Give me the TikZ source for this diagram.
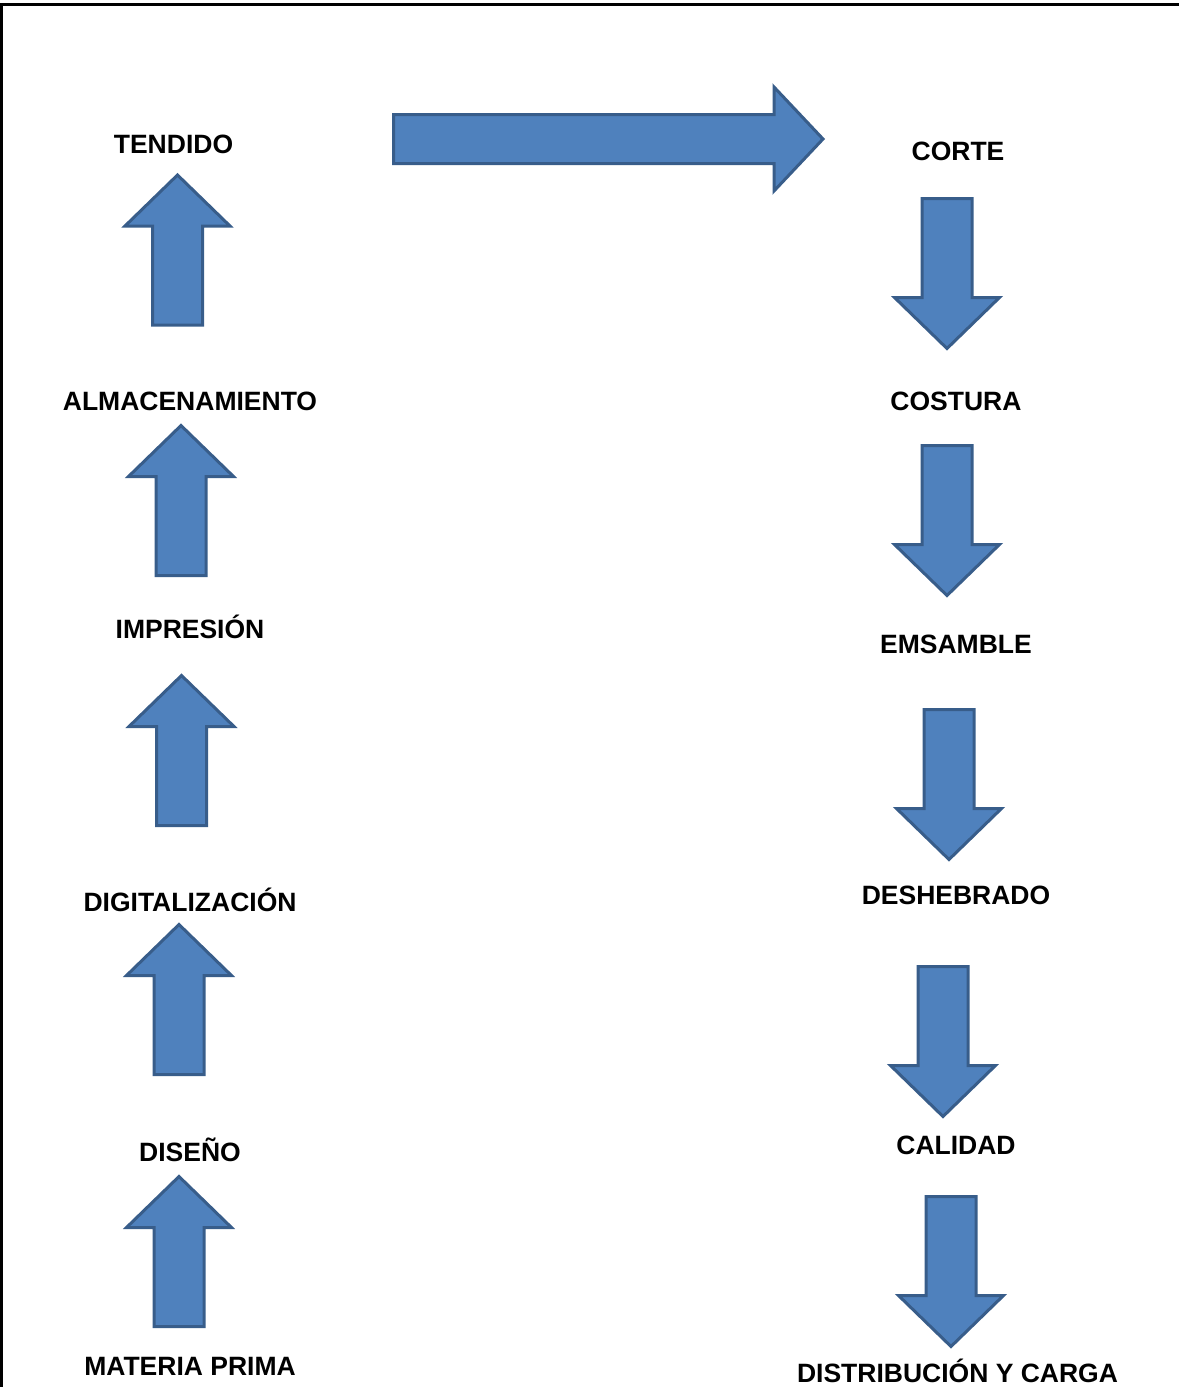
\documentclass[tikz,border=0pt]{standalone}
\usepackage{fontspec}
\setmainfont{Liberation Sans}
\definecolor{arrfill}{HTML}{4F81BD}
\definecolor{arrline}{HTML}{385D8A}
\tikzset{
  lbl/.style={font=\fontsize{26.5}{30}\selectfont\bfseries, inner sep=0pt, text height=19pt, text depth=0pt},
  blk/.style={fill=arrfill, draw=arrline, line width=3pt},
  pics/uparr/.style={code={\draw[blk] (-25,0) -- (-25,-99) -- (-52.5,-99) -- (0,-150) -- (52.5,-99) -- (25,-99) -- (25,0) -- cycle;}},
  pics/downarr/.style={code={\draw[blk] (-25,0) -- (-25,99) -- (-52.5,99) -- (0,150) -- (52.5,99) -- (25,99) -- (25,0) -- cycle;}},
}
\begin{document}
\begin{tikzpicture}[x=1pt,y=-1pt]
\useasboundingbox (0,0) rectangle (1179,1387);
\draw[line width=3pt] (1.5,1387) -- (1.5,4.2) -- (1179,4.2);

% left column
\node[lbl] (tendido) at (173.5,144)  {TENDIDO};
\node[lbl] (almac)   at (190,401)    {ALMACENAMIENTO};
\node[lbl] (impres)  at (190,629)    {IMPRESIÓN};
\node[lbl] (digit)   at (190,902)    {DIGITALIZACIÓN};
\node[lbl] (diseno)  at (190,1152)   {DISEÑO};
\node[lbl] (materia) at (190,1365.5) {MATERIA PRIMA};

% right column
\node[lbl] (corte)   at (958,151)    {CORTE};
\node[lbl] (costura) at (956,401)    {COSTURA};
\node[lbl] (emsam)   at (956,644)    {EMSAMBLE};
\node[lbl] (deshe)   at (956,895)    {DESHEBRADO};
\node[lbl] (calidad) at (956,1145)   {CALIDAD};
\node[lbl] (distri)  at (957.5,1373) {DISTRIBUCIÓN Y CARGA};

\pic at (179,1326.5) {uparr};
\pic at (179,1074.5) {uparr};
\pic at (181.5,825.5) {uparr};
\pic at (181,575.5)  {uparr};
\pic at (177.5,325)  {uparr};

\draw[blk] (393.5,114.5) -- (774,114.5) -- (774,87) -- (823,139) -- (774,191) -- (774,163.5) -- (393.5,163.5) -- cycle;

\pic at (947,198.5)  {downarr};
\pic at (947,445.5)  {downarr};
\pic at (949,709.5)  {downarr};
\pic at (943,966.5)  {downarr};
\pic at (951,1196.5) {downarr};
\end{tikzpicture}
\end{document}
